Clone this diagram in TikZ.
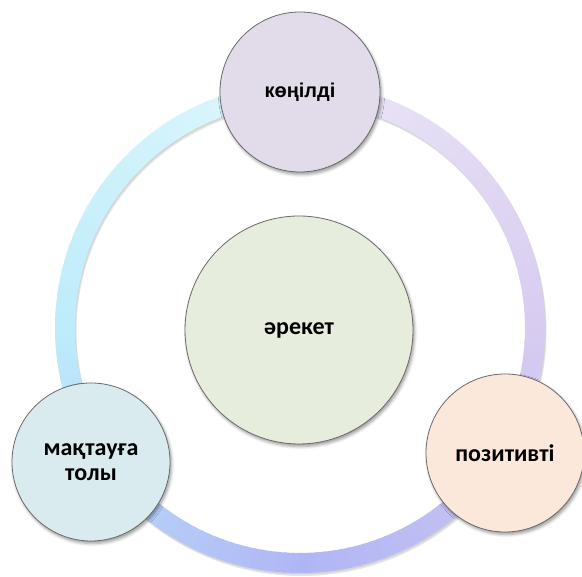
\documentclass[tikz,border=0pt]{standalone}
\usepackage{fontspec}
\setmainfont{Carlito}
\newfontfamily\arialb{Liberation Sans}
\usetikzlibrary{shadows.blur,calc}
\definecolor{rA}{HTML}{E0F7FC}
\definecolor{rB}{HTML}{BDECFB}
\definecolor{rC}{HTML}{B0B6F5}
\definecolor{rD}{HTML}{D8CCF0}
\definecolor{rE}{HTML}{ECE7F8}
\definecolor{fTop}{HTML}{E2DCEA}
\definecolor{fMid}{HTML}{E6EDDC}
\definecolor{fLeft}{HTML}{DAEBF0}
\definecolor{fRight}{HTML}{FBE8DA}
\definecolor{edge}{HTML}{6A6A6A}
\tikzset{
  bubble/.style={circle, draw=edge, line width=0.8pt, inner sep=0pt, align=center,
    font=\bfseries\fontsize{24}{25}\selectfont,
    blur shadow={shadow xshift=1.5pt, shadow yshift=-2.5pt, shadow blur radius=3pt, shadow opacity=40}},
  ringseg/.style={line width=20pt}
}
\begin{document}
\begin{tikzpicture}[x=1pt,y=1pt]
\useasboundingbox (0,0) rectangle (582,577);
\coordinate (rc) at (300,249);
% ring shadow
\draw[line width=20pt, black, opacity=0.10] ($(rc)+(1.5,-3)$) circle[radius=235pt];
\draw[line width=20pt, black, opacity=0.08] ($(rc)+(0.8,-1.5)$) circle[radius=235pt];
% ring gradient
\foreach \a in {90,92,...,448}{
  \pgfmathsetmacro{\seg}{int((\a-90)/90)}
  \pgfmathsetmacro{\p}{100-100*(\a-90-90*\seg)/90}
  \ifcase\seg
    \colorlet{segc}{rA!\p!rB}
  \or
    \colorlet{segc}{rB!\p!rC}
  \or
    \colorlet{segc}{rC!\p!rD}
  \or
    \colorlet{segc}{rD!\p!rE}
  \fi
  \draw[ringseg, segc] ($(rc)+(\a:235pt)$) arc[start angle=\a, end angle=\a+2.6, radius=235pt];
}
\node[bubble, fill=fMid, minimum size=228pt] (mid) at (299,247) {әрекет};
\node[bubble, fill=fTop, minimum size=160pt, font=\arialb\bfseries\fontsize{20}{24}\selectfont] (top) at (300,485) {көңілді};
\node[bubble, fill=fLeft, minimum size=158pt] (left) at (91,115) {мақтауға\\толы};
\node[bubble, fill=fRight, minimum size=158pt] (right) at (505,124) {позитивті};
\end{tikzpicture}
\end{document}
